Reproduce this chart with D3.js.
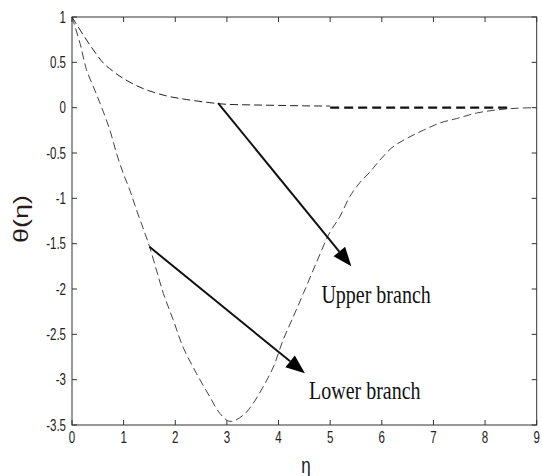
<!DOCTYPE html>
<html><head><meta charset="utf-8">
<script src="https://cdn.jsdelivr.net/npm/d3@7"></script>
<style>body{margin:0;background:#fff}svg{display:block}</style>
</head><body>
<svg id="c" width="542" height="476"></svg>
<script>
// ---- data ----
const xTicks = [0,1,2,3,4,5,6,7,8,9];
const yTicks = [1,0.5,0,-0.5,-1,-1.5,-2,-2.5,-3,-3.5];
const yTickLabels = ["1","0.5","0","-0.5","-1","-1.5","-2","-2.5","-3","-3.5"];
const upperEta   = [0, 0.22, 0.41, 0.61, 0.8, 1.0, 1.38, 1.83, 2.22, 2.67, 3.0, 3.5, 4.0, 4.5, 5.0];
const upperTheta = [1, 0.80, 0.64, 0.49, 0.40, 0.32, 0.21, 0.13, 0.09, 0.055, 0.037, 0.03, 0.025, 0.02, 0.018];
const upperTailEta   = [5.0, 8.5];
const upperTailTheta = [0, 0];
const lowerEta   = [0, 0.155, 0.28, 0.44, 0.57, 0.735, 0.86, 0.99, 1.12, 1.25, 1.39, 1.5, 1.64, 1.77, 1.96, 2.15, 2.41, 2.67, 2.86, 3.06, 3.32, 3.51, 3.70, 3.90, 4.09, 4.29, 4.48, 4.74, 4.99, 5.19, 5.38, 5.57, 5.77, 5.96, 6.22, 6.48, 6.80, 7.12, 7.45, 7.83, 8.22, 8.6, 9];
const lowerTheta = [1, 0.71, 0.42, 0.195, 0.01, -0.25, -0.50, -0.72, -0.91, -1.13, -1.35, -1.53, -1.80, -2.05, -2.34, -2.64, -2.93, -3.19, -3.37, -3.46, -3.39, -3.26, -3.08, -2.86, -2.56, -2.30, -2.05, -1.70, -1.38, -1.20, -0.98, -0.83, -0.71, -0.58, -0.43, -0.34, -0.25, -0.17, -0.12, -0.06, -0.025, -0.007, 0];
const arrowNames = ["Upper branch","Lower branch"];
const arrowFrom  = [[2.83, 0.05], [1.5, -1.535]];
const arrowTo    = [[5.41, -1.75], [4.51, -2.93]];
const labelPos   = [[4.83, -2.157], [4.59, -3.215]];

// ---- chart ----
const svg = d3.select("#c");
const L = 72, R = 536.7, T = 17, B = 425;
const x = d3.scaleLinear().domain([0,9]).range([L,R]);
const y = d3.scaleLinear().domain([-3.5,1]).range([B,T]);
const axisColor = "#333";
const stretch = 1.4;

// frame
svg.append("rect").attr("x",L).attr("y",T).attr("width",R-L).attr("height",B-T)
  .attr("fill","none").attr("stroke",axisColor).attr("stroke-width",1);

// ticks (inward on all sides)
const tl = 5;
xTicks.forEach(t=>{
  svg.append("line").attr("x1",x(t)).attr("x2",x(t)).attr("y1",B).attr("y2",B-tl).attr("stroke",axisColor);
  svg.append("line").attr("x1",x(t)).attr("x2",x(t)).attr("y1",T).attr("y2",T+tl).attr("stroke",axisColor);
  svg.append("text").attr("transform",`translate(${x(t)},443) scale(1,${stretch})`)
    .attr("text-anchor","middle").attr("font-family","Liberation Sans, Arial, sans-serif")
    .attr("font-size",11.5).attr("fill","#222").text(t);
});
yTicks.forEach((t,i)=>{
  svg.append("line").attr("x1",L).attr("x2",L+tl).attr("y1",y(t)).attr("y2",y(t)).attr("stroke",axisColor);
  svg.append("line").attr("x1",R).attr("x2",R-tl).attr("y1",y(t)).attr("y2",y(t)).attr("stroke",axisColor);
  svg.append("text").attr("transform",`translate(66,${y(t)+5.8}) scale(1,${stretch})`)
    .attr("text-anchor","end").attr("font-family","Liberation Sans, Arial, sans-serif")
    .attr("font-size",11.5).attr("fill","#222").text(yTickLabels[i]);
});

// axis titles
svg.append("text").attr("transform",`translate(306,473) scale(1,1.3)`)
  .attr("text-anchor","middle").attr("font-family","Liberation Sans, Arial, sans-serif")
  .attr("font-size",17).attr("fill","#222").text("η");
svg.append("text").attr("transform",`translate(28,219) rotate(-90) scale(1.35,1)`)
  .attr("text-anchor","middle").attr("font-family","Liberation Sans, Arial, sans-serif")
  .attr("font-size",20).attr("fill","#2a1a1a").text("θ(η)");

// curves
const line = d3.line().x(d=>x(d[0])).y(d=>y(d[1])).curve(d3.curveCatmullRom);
const zip = (a,b)=>a.map((v,i)=>[v,b[i]]);
svg.append("path").attr("d",line(zip(lowerEta,lowerTheta)))
  .attr("fill","none").attr("stroke","#444").attr("stroke-width",1).attr("stroke-dasharray","8,4");
svg.append("path").attr("d",line(zip(upperEta,upperTheta)))
  .attr("fill","none").attr("stroke","#222").attr("stroke-width",1).attr("stroke-dasharray","8,4");
svg.append("path").attr("d",d3.line().x(d=>x(d[0])).y(d=>y(d[1]))(zip(upperTailEta,upperTailTheta)))
  .attr("fill","none").attr("stroke","#111").attr("stroke-width",2.4).attr("stroke-dasharray","9,5");

// arrows
arrowNames.forEach((name,i)=>{
  const x1 = x(arrowFrom[i][0]), y1 = y(arrowFrom[i][1]);
  const x2 = x(arrowTo[i][0]),   y2 = y(arrowTo[i][1]);
  const ang = Math.atan2(y2-y1, x2-x1);
  const hl = 19, hw = 7.5;
  const bx = x2 - hl*Math.cos(ang), by = y2 - hl*Math.sin(ang);
  svg.append("line").attr("x1",x1).attr("y1",y1).attr("x2",bx).attr("y2",by)
    .attr("stroke","#111").attr("stroke-width",2);
  const p = [[x2,y2],[bx + hw*Math.sin(ang), by - hw*Math.cos(ang)],[bx - hw*Math.sin(ang), by + hw*Math.cos(ang)]];
  svg.append("polygon").attr("points",p.map(q=>q.join(",")).join(" ")).attr("fill","#000");
  svg.append("text").attr("transform",`translate(${x(labelPos[i][0])},${y(labelPos[i][1])}) scale(1,1.28)`)
    .attr("font-family","Liberation Serif, Times New Roman, serif").attr("font-size",20)
    .attr("fill","#111").text(name);
});
</script>
</body></html>
